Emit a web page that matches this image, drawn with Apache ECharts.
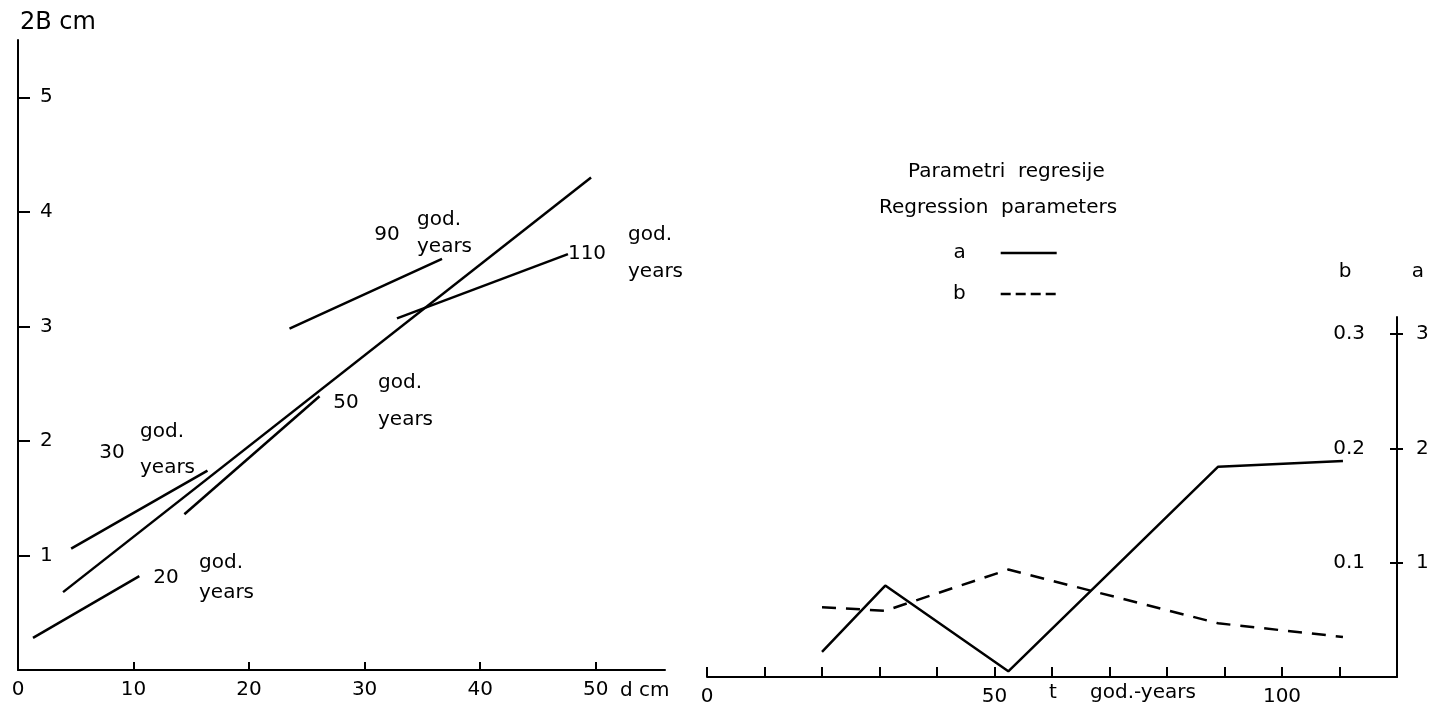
<!DOCTYPE html>
<html>
<head>
<meta charset="utf-8">
<title>2B – d; parametri regresije</title>
<script src="https://cdn.jsdelivr.net/npm/echarts@6/dist/echarts.min.js"></script>
<style>
  html, body { margin: 0; padding: 0; background: #fff; }
  #chart { width: 1434px; height: 716px; }
</style>
</head>
<body>
<div id="chart"></div>
<script>
// Left panel: 2B (cm) against stem diameter d (cm), one regression line per stand age
const line20 = [[1.3, 0.28], [10.5, 0.82]];
const line30 = [[4.6, 1.06], [16.4, 1.74]];
const line50 = [[14.4, 1.36], [26.1, 2.39]];
const line90 = [[23.5, 2.98], [36.7, 3.59]];
const line110 = [[32.8, 3.07], [47.6, 3.63]];
const linePooled = [[3.9, 0.68], [49.6, 4.30]];

// Right panel: regression parameters a and b against age t (years)
const ageT = [20, 31, 52.4, 88.9, 110.6];
const paramA = [0.22, 0.80, 0.05, 1.84, 1.89];
const paramB = [0.061, 0.058, 0.094, 0.047, 0.035];

// Tick values
const dTicks = [0, 10, 20, 30, 40, 50];
const bbTicks = [1, 2, 3, 4, 5];
const tTicks = [0, 10, 20, 30, 40, 50, 60, 70, 80, 90, 100, 110];
const tLabels = [0, 50, 100];
const aTicks = [1, 2, 3];
const bTicks = [0.1, 0.2, 0.3];

const FONT = 'DejaVu Sans';
const INK = '#000';
const LW = 2.5;

const chart = echarts.init(document.getElementById('chart'), null, { renderer: 'canvas' });

function pairs(xs, ys) { return xs.map((x, i) => [x, ys[i]]); }

function segment(name, data) {
  return {
    name, type: 'line', xAxisIndex: 0, yAxisIndex: 0, data,
    symbol: 'none', silent: true,
    itemStyle: { color: INK },
    lineStyle: { color: INK, width: LW }
  };
}

function txt(text, x, y, align, size) {
  return {
    type: 'text', silent: true,
    style: {
      text, x, y, fill: INK,
      font: (size || 20) + 'px "' + FONT + '"',
      align: align || 'center', textAlign: align || 'center',
      verticalAlign: 'middle', textVerticalAlign: 'middle'
    }
  };
}

const axisLineStyle = { onZero: false, lineStyle: { color: INK, width: 2 } };

const option = {
  animation: false,
  backgroundColor: '#fff',
  textStyle: { fontFamily: FONT, color: INK },
  grid: [
    { left: 18, top: 40, width: 647, height: 630 },
    { left: 707, top: 317, width: 690, height: 360 }
  ],
  xAxis: [
    {
      gridIndex: 0, type: 'value', min: 0, max: 56,
      splitLine: { show: false },
      axisLine: axisLineStyle,
      axisTick: { inside: true, length: 8, customValues: dTicks, lineStyle: { color: INK, width: 2 } },
      axisLabel: { customValues: dTicks, margin: 10, fontSize: 20, color: INK, fontFamily: FONT }
    },
    {
      gridIndex: 1, type: 'value', min: 0, max: 120,
      splitLine: { show: false },
      axisLine: axisLineStyle,
      axisTick: { inside: true, length: 10, customValues: tTicks, lineStyle: { color: INK, width: 2 } },
      axisLabel: { customValues: tLabels, margin: 10, fontSize: 20, color: INK, fontFamily: FONT }
    }
  ],
  yAxis: [
    {
      gridIndex: 0, type: 'value', min: 0, max: 5.5,
      splitLine: { show: false },
      axisLine: axisLineStyle,
      axisTick: { inside: true, length: 12, customValues: bbTicks, lineStyle: { color: INK, width: 2 } },
      axisLabel: {
        inside: true, customValues: bbTicks, margin: 22, fontSize: 20,
        color: INK, fontFamily: FONT, padding: [5, 0, 0, 0]
      }
    },
    {
      gridIndex: 1, type: 'value', position: 'right', min: 0, max: 3.15,
      splitLine: { show: false },
      axisLine: { show: true, onZero: false, lineStyle: { color: INK, width: 2 } },
      axisTick: { show: true, length: 6, customValues: aTicks, lineStyle: { color: INK, width: 2 } },
      axisLabel: { show: true, customValues: aTicks, margin: 19, fontSize: 20, color: INK, fontFamily: FONT }
    },
    {
      gridIndex: 1, type: 'value', position: 'right', min: 0, max: 0.315,
      splitLine: { show: false },
      axisLine: { show: false, onZero: false },
      axisTick: { show: true, inside: true, length: 7, customValues: bTicks, lineStyle: { color: INK, width: 2 } },
      axisLabel: {
        show: true, inside: true, customValues: bTicks, margin: 32,
        fontSize: 20, color: INK, fontFamily: FONT,
        formatter: v => v.toFixed(1)
      }
    }
  ],
  legend: {
    data: [
      { name: 'a', lineStyle: { color: INK, width: LW, type: 'solid' } },
      { name: 'b', lineStyle: { color: INK, width: LW, type: [10, 5] } }
    ],
    orient: 'vertical', left: 948, top: 238,
    align: 'right', itemWidth: 56, itemHeight: 14, itemGap: 21,
    selectedMode: false,
    itemStyle: { color: 'rgba(0,0,0,0)', borderColor: 'rgba(0,0,0,0)', borderWidth: 0, opacity: 0 },
    textStyle: { fontSize: 20, color: INK, fontFamily: FONT, padding: [0, 30, 0, 0] }
  },
  series: [
    segment('20', line20),
    segment('30', line30),
    segment('50', line50),
    segment('90', line90),
    segment('110', line110),
    segment('pooled', linePooled),
    {
      name: 'a', type: 'line', xAxisIndex: 1, yAxisIndex: 1,
      data: pairs(ageT, paramA), symbol: 'none', silent: true,
      itemStyle: { color: INK },
      lineStyle: { color: INK, width: LW, type: 'solid' }
    },
    {
      name: 'b', type: 'line', xAxisIndex: 1, yAxisIndex: 2,
      data: pairs(ageT, paramB), symbol: 'none', silent: true,
      itemStyle: { color: INK },
      lineStyle: { color: INK, width: LW, type: [14, 10] }
    }
  ],
  graphic: [
    txt('2B cm', 20, 23, 'left', 24),
    txt('d cm', 620, 691, 'left'),
    // age annotations beside the regression lines
    txt('20', 166, 578), txt('god.', 199, 563, 'left'), txt('years', 199, 593, 'left'),
    txt('30', 112, 453), txt('god.', 140, 432, 'left'), txt('years', 140, 468, 'left'),
    txt('50', 346, 403), txt('god.', 378, 383, 'left'), txt('years', 378, 420, 'left'),
    txt('90', 387, 235), txt('god.', 417, 220, 'left'), txt('years', 417, 247, 'left'),
    txt('110', 587, 254), txt('god.', 628, 235, 'left'), txt('years', 628, 272, 'left'),
    // right panel headings
    txt('Parametri  regresije', 908, 172, 'left'),
    txt('Regression  parameters', 879, 208, 'left'),
    txt('b', 1345, 272), txt('a', 1418, 272),
    txt('t', 1053, 693), txt('god.-years', 1090, 693, 'left')
  ]
};

chart.setOption(option);
</script>
</body>
</html>
